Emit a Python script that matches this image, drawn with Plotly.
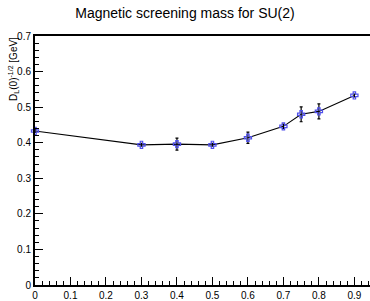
import plotly.graph_objects as go

title_text = "Magnetic screening mass for SU(2)"
x_vals = [0.0, 0.3, 0.4, 0.5, 0.6, 0.7, 0.75, 0.8, 0.9]
y_vals = [0.433, 0.394, 0.396, 0.394, 0.414, 0.446, 0.480, 0.488, 0.533]
y_errs = [0.004, 0.004, 0.017, 0.004, 0.016, 0.006, 0.021, 0.021, 0.004]
x_ticks = [0, 0.1, 0.2, 0.3, 0.4, 0.5, 0.6, 0.7, 0.8, 0.9]
x_tick_labels = ["0", "0.1", "0.2", "0.3", "0.4", "0.5", "0.6", "0.7", "0.8", "0.9"]
y_ticks = [0, 0.1, 0.2, 0.3, 0.4, 0.5, 0.6, 0.7]
y_tick_labels = ["0", "0.1", "0.2", "0.3", "0.4", "0.5", "0.6", "0.7"]

FONT = "Liberation Sans, Arial, sans-serif"

fig = go.Figure()
fig.add_trace(go.Scatter(
    x=x_vals, y=y_vals,
    mode="lines+markers",
    line=dict(color="black", width=1.1),
    marker=dict(symbol="cross-open", size=6, color="rgb(80,80,235)",
                line=dict(color="rgb(80,80,235)", width=1.2)),
    error_y=dict(type="data", array=y_errs, visible=True, color="black",
                 thickness=1.2, width=1.5),
    cliponaxis=False,
    showlegend=False,
))

fig.update_layout(
    width=370, height=301,
    margin=dict(l=35, r=0, t=36, b=10, pad=0),
    paper_bgcolor="white", plot_bgcolor="white",
    font=dict(family=FONT, color="black", size=10),
    title=dict(text=title_text, x=0.5, xanchor="center", y=0.955, yanchor="middle",
               font=dict(family=FONT, size=14, color="black")),
    xaxis=dict(
        range=[0, 0.944], showgrid=False, zeroline=False,
        showline=True, linecolor="black", linewidth=2, mirror=True,
        ticks="inside", ticklen=8, tickwidth=1, tickcolor="black",
        tickvals=x_ticks, ticktext=x_tick_labels,
        tickfont=dict(size=10, family=FONT),
        minor=dict(ticks="inside", ticklen=4, dtick=0.02, tick0=0, tickcolor="black", tickwidth=1),
    ),
    yaxis=dict(
        range=[0, 0.7], showgrid=False, zeroline=False,
        showline=True, linecolor="black", linewidth=2,
        ticks="inside", ticklen=8, tickwidth=1, tickcolor="black",
        tickvals=y_ticks, ticktext=y_tick_labels,
        tickfont=dict(size=10, family=FONT),
        minor=dict(ticks="inside", ticklen=4, dtick=0.02, tick0=0, tickcolor="black", tickwidth=1),
    ),
    annotations=[dict(
        text="D<sub>L</sub>(0)<sup>-1/2</sup> [GeV]",
        xref="paper", yref="paper", x=-0.066, y=1.004,
        xanchor="center", yanchor="top", textangle=-90, showarrow=False,
        font=dict(family=FONT, size=10, color="black"),
    )],
)

fig.write_html("out.html", config={"displayModeBar": False},
               post_script="document.body.style.margin='0';document.body.style.overflow='hidden';")
